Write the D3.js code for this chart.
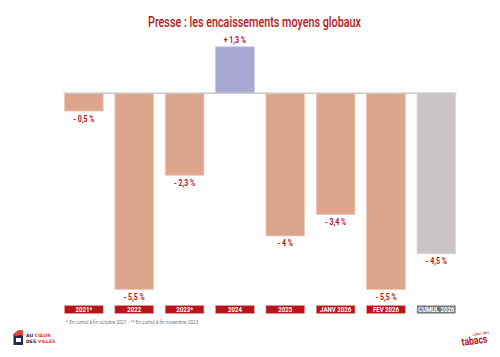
<!DOCTYPE html>
<html><head><meta charset="utf-8">
<script src="https://cdn.jsdelivr.net/npm/d3@7"></script>
<style>body{margin:0;background:#fff}svg{display:block}</style>
</head><body>
<script>
const categories = ["2021*","2022","2023*","2024","2025","JANV 2026","FEV 2026","CUMUL 2026"];
const values = [-0.5,-5.5,-2.3,1.3,-4,-3.4,-5.5,-4.5];
const valueLabels = ["- 0,5 %","- 5,5 %","- 2,3 %","+ 1,3 %","- 4 %","- 3,4 %","- 5,5 %","- 4,5 %"];
const kinds = ["neg","neg","neg","pos","neg","neg","neg","cumul"];
const title = "Presse : les encaissements moyens globaux";
const footnote = "* En cumul à fin octobre 2021 - ** En cumul à fin novembre 2023";

const W=500,H=357;
const svg=d3.select("body").append("svg").attr("width",W).attr("height",H);
const font="'Roboto','DejaVu Sans',sans-serif";
const red="#b8141c";
const fill={neg:"#dda58c",pos:"#a8a6d2",cumul:"#cbc5c5"};
const stroke={neg:"#f0c9bb",pos:"#c9c7e6",cumul:"#e0dcdc"};

function squeeze(sel,f){ sel.each(function(){ const L=this.getComputedTextLength(); d3.select(this).attr("textLength",L*f).attr("lengthAdjust","spacingAndGlyphs"); }); }

svg.append("text").attr("x",254.5).attr("y",27).attr("text-anchor","middle")
  .attr("font-family",font).attr("font-weight",500).attr("font-size",15.5).attr("fill",red).text(title)
  .attr("textLength",213).attr("lengthAdjust","spacingAndGlyphs");

const x=d3.scaleBand().domain(categories).range([64.5,455.7]).paddingInner(0.2315).paddingOuter(0);
const y=d3.scaleLinear().domain([-5.5,1.3]).range([289.5,46.8]);

svg.selectAll("rect.bar").data(categories).join("rect").attr("class","bar")
  .attr("x",d=>x(d)).attr("width",x.bandwidth())
  .attr("y",(d,i)=>Math.min(y(0),y(values[i])))
  .attr("height",(d,i)=>Math.abs(y(values[i])-y(0)))
  .attr("fill",(d,i)=>fill[kinds[i]]).attr("stroke",(d,i)=>stroke[kinds[i]]).attr("stroke-width",0.8);

svg.append("line").attr("x1",63.5).attr("x2",456.5).attr("y1",y(0)).attr("y2",y(0))
  .attr("stroke","#c9c9c9").attr("stroke-width",1.6);

svg.selectAll("text.val").data(categories).join("text").attr("class","val")
  .attr("x",d=>x(d)+x.bandwidth()/2)
  .attr("y",(d,i)=>values[i]<0? y(values[i])+10.5 : y(values[i])-3.5)
  .attr("text-anchor","middle").attr("font-family",font).attr("font-weight","bold")
  .attr("font-size",9).attr("fill",red).text((d,i)=>valueLabels[i]).call(squeeze,0.78);

const g=svg.selectAll("g.cat").data(categories).join("g").attr("class","cat");
g.append("rect").attr("x",d=>x(d)).attr("width",x.bandwidth()).attr("y",305.5).attr("height",8)
  .attr("fill",(d,i)=>kinds[i]==="cumul"?"#7a7777":red)
  .attr("stroke",(d,i)=>kinds[i]==="cumul"?"#bdb9b9":"#e79a9a").attr("stroke-width",0.6);
g.append("text").attr("x",d=>x(d)+x.bandwidth()/2).attr("y",312.2).attr("text-anchor","middle")
  .attr("font-family",font).attr("font-weight","bold").attr("font-size",7.6).attr("fill","#fff").text(d=>d)
  .call(squeeze,0.8);

svg.append("text").attr("x",66).attr("y",324).attr("font-family",font).attr("font-size",5.6)
  .attr("fill","#777").text(footnote).attr("textLength",132).attr("lengthAdjust","spacingAndGlyphs");

// left logo
const lg=svg.append("g");
lg.append("path").attr("d","M13.5,345 L13.5,334 L18,330.5 L23,330.5 L23,345 Z").attr("fill","#1f2a57");
lg.append("path").attr("d","M18,330.5 L23,330.5 L23,336 Q20,334.5 16,336.5 L13.5,334 Z").attr("fill","#e8432e");
lg.append("rect").attr("x",16).attr("y",338).attr("width",5).attr("height",4).attr("fill","#fff");
lg.append("text").attr("x",26).attr("y",337).attr("font-family","'DejaVu Sans',sans-serif").attr("font-weight","bold")
  .attr("font-size",4.6).attr("fill","#1f2a57").text("AU ").append("tspan").attr("fill","#e8432e").text("CŒUR");
lg.append("text").attr("x",26).attr("y",343).attr("font-family","'DejaVu Sans',sans-serif").attr("font-weight","bold")
  .attr("font-size",4.6).attr("fill","#1f2a57").text("DES ").append("tspan").attr("fill","#e8432e").text("VILLES");

// right logo
const rg=svg.append("g").attr("transform","translate(462,346) rotate(-8)");
rg.append("text").attr("x",0).attr("y",0).attr("font-family",font).attr("font-weight","bold")
  .attr("font-size",11).attr("fill","#c0141c").text("tabacs").attr("textLength",26).attr("lengthAdjust","spacingAndGlyphs");
rg.append("text").attr("x",12).attr("y",-8.5).attr("font-family",font).attr("font-size",4).attr("fill","#c0141c").text("cœur des");
</script>
</body></html>
